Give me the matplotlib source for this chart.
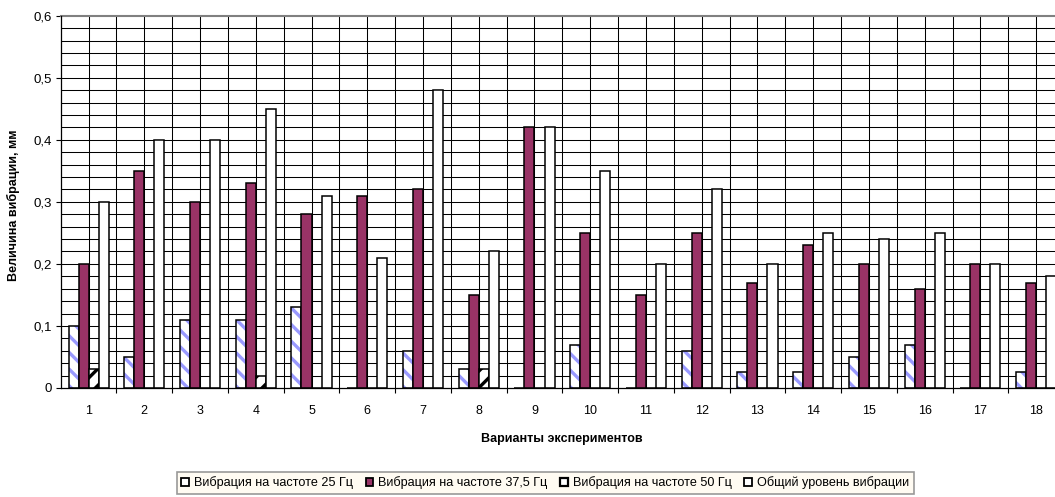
import matplotlib
matplotlib.use("Agg")
import matplotlib.pyplot as plt
from matplotlib.patches import Patch
from matplotlib.ticker import MultipleLocator, FixedLocator, FuncFormatter
import numpy as np

plt.rcParams['font.family'] = ['Liberation Sans', 'DejaVu Sans']
plt.rcParams['hatch.linewidth'] = 2.4

experiments = [str(i) for i in range(1, 19)]
vib_25 = [0.10, 0.05, 0.11, 0.11, 0.13, 0.0, 0.06, 0.03, 0.0,
          0.07, 0.0, 0.06, 0.025, 0.025, 0.05, 0.07, 0.0, 0.025]
vib_375 = [0.20, 0.35, 0.30, 0.33, 0.28, 0.31, 0.32, 0.15, 0.42,
           0.25, 0.15, 0.25, 0.17, 0.23, 0.20, 0.16, 0.20, 0.17]
vib_50 = [0.03, 0.0, 0.0, 0.02, 0.0, 0.0, 0.0, 0.03, 0.0,
          0.0, 0.0, 0.0, 0.0, 0.0, 0.0, 0.0, 0.0, 0.0]
vib_total = [0.30, 0.40, 0.40, 0.45, 0.31, 0.21, 0.48, 0.22, 0.42,
             0.35, 0.20, 0.32, 0.20, 0.25, 0.24, 0.25, 0.20, 0.18]
series_names = ["Вибрация на частоте 25 Гц", "Вибрация на частоте 37,5 Гц",
                "Вибрация на частоте 50 Гц", "Общий уровень вибрации"]

W, H = 1055, 497
fig = plt.figure(figsize=(W / 100, H / 100), dpi=100)
ax = fig.add_axes([60.7 / W, 1 - 388 / H, (1064 - 60.7) / W, (388 - 15.7) / H])

x = np.arange(1, len(experiments) + 1)
bw = 0.18
edge_lw = 1.1
maroon = '#993366'
stripe_blue = '#9999FF'

# 25 Hz: blue diagonal stripes on white, black outline drawn on top
ax.bar(x - 1.5 * bw, vib_25, bw, facecolor='white', edgecolor=stripe_blue,
       hatch='\\\\', linewidth=0, zorder=3)
ax.bar(x - 1.5 * bw, vib_25, bw, fill=False, edgecolor='black',
       linewidth=edge_lw, zorder=4)
# 37.5 Hz: solid maroon
ax.bar(x - 0.5 * bw, vib_375, bw, facecolor=maroon, edgecolor='black',
       linewidth=edge_lw, zorder=4)
# 50 Hz: black diagonal stripes on white
ax.bar(x + 0.5 * bw, vib_50, bw, facecolor='white', edgecolor='black',
       hatch='//', linewidth=edge_lw, zorder=4)
# overall level: plain white
ax.bar(x + 1.5 * bw, vib_total, bw, facecolor='white', edgecolor='black',
       linewidth=edge_lw, zorder=4)

ax.set_xlim(0.5, len(experiments) + 0.5)
ax.set_ylim(0, 0.6)

# grid: every 0.02 horizontally, every half category vertically
for yv in np.arange(0.02, 0.6, 0.02):
    ax.axhline(yv, color='black', linewidth=0.75, zorder=1)
for xv in np.arange(1.0, len(experiments) + 0.6, 0.5):
    ax.axvline(xv, color='black', linewidth=0.75, zorder=1)

ax.yaxis.set_major_locator(MultipleLocator(0.1))
ax.yaxis.set_major_formatter(FuncFormatter(lambda v, p: f"{v:.1f}".replace('.', ',') if v > 0 else "0"))
ax.xaxis.set_major_locator(FixedLocator(np.arange(1.5, len(experiments) + 0.5, 1.0)))
ax.xaxis.set_major_formatter(FuncFormatter(lambda v, p: ""))
ax.xaxis.set_minor_locator(FixedLocator(x))
ax.set_xticklabels(experiments, minor=True)
ax.tick_params(axis='x', which='minor', length=0, pad=12.5, labelsize=9)
ax.tick_params(axis='x', which='major', length=3.5, width=0.8, direction='out')
ax.tick_params(axis='y', length=3.5, width=0.8, direction='out', pad=3, labelsize=9.5)

for side in ('left', 'bottom'):
    ax.spines[side].set_color('black')
    ax.spines[side].set_linewidth(0.9)
    ax.spines[side].set_zorder(5)
ax.spines['top'].set_color('#808080')
ax.spines['top'].set_linewidth(1.5)
ax.spines['right'].set_visible(False)

fig.text(13 / W, 1 - 205 / H, "Величина вибрации, мм", rotation=90,
         ha='center', va='center', fontsize=9, fontweight='bold')
fig.text(562 / W, 1 - 439 / H, "Варианты экспериментов",
         ha='center', va='center', fontsize=9, fontweight='bold')

handles = [
    Patch(facecolor='white', edgecolor='black', linewidth=1.3),
    Patch(facecolor=maroon, edgecolor='black', linewidth=1.3),
    Patch(facecolor='white', edgecolor='black', linewidth=1.6),
    Patch(facecolor='white', edgecolor='black', linewidth=1.3),
]
leg = fig.legend(handles, series_names, loc='upper left',
                 bbox_to_anchor=(177 / W, 1 - 472 / H), ncol=4, fontsize=9.1,
                 frameon=True, fancybox=False, handlelength=0.6,
                 handleheight=0.6, handletextpad=0.4, columnspacing=1.0,
                 borderpad=0.35, borderaxespad=0)
frame = leg.get_frame()
frame.set_facecolor('#FFFBEF')
frame.set_edgecolor('#808080')
frame.set_linewidth(1.2)

fig.savefig("out.png", dpi=100)
